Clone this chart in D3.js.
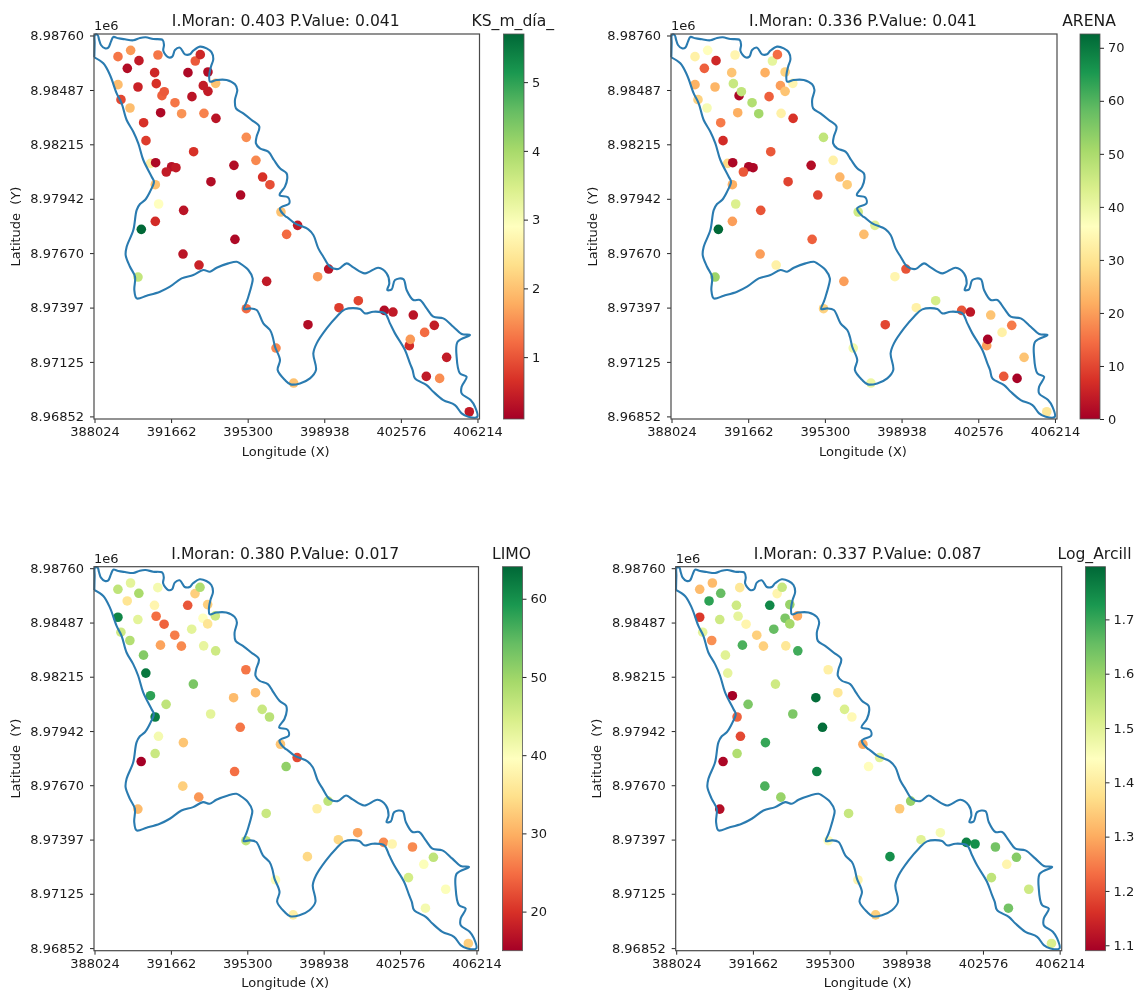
<!DOCTYPE html>
<html><head><meta charset="utf-8">
<script src="https://cdn.jsdelivr.net/npm/d3@7"></script>
<style>html,body{margin:0;padding:0;background:#fff}svg{display:block;filter:blur(0.35px)}text{font-family:"DejaVu Sans",sans-serif;fill:#1a1a1a}</style>
</head><body><div id="chart"></div>
<script>
// ---------- data ----------
const stationLon = [389139,389740,390136,389582,391038,390880,390959,390089,389139,389281,389709,391228,391339,391846,391165,392162,393223,393793,392653,393191,393413,393777,392463,393413,392811,393049,390358,390469,392732,390690,390928,391687,391893,391434,394648,395692,396009,396357,390912,393555,395233,394964,391070,392257,390912,390247,396880,397149,394695,397673,399146,398623,396201,395236,399636,400555,401789,402201,403167,404164,403705,402977,403024,404750,403784,404417,405826,398164,396645,397484,390090,392228,392988];
const stationLat = [8986540,8986857,8986340,8985955,8986623,8985738,8985187,8985020,8985137,8984386,8983968,8984586,8984786,8984235,8983734,8983684,8983701,8983450,8984536,8985087,8984803,8985204,8985738,8985772,8986323,8986640,8983233,8982332,8981780,8981196,8981229,8981029,8980979,8980762,8981096,8981346,8980511,8980127,8980127,8980277,8982499,8979609,8979159,8978841,8978290,8977889,8978758,8977639,8977388,8978090,8975902,8975518,8975284,8973915,8973965,8974316,8973831,8973748,8973597,8973080,8972729,8972061,8972378,8971477,8970525,8970424,8968754,8973113,8971944,8970191,8975501,8976653,8976102];
const ksValues = [1.3,1.6,.4,.25,1.3,.55,.66,.5,1.95,.88,1.95,1.1,1.05,1.3,.2,1.55,1.4,.33,.33,.43,.43,2,.2,.25,1.05,.55,.66,.77,.66,2.6,.2,.3,.4,.43,.25,1.45,.66,.94,2,.25,1.5,.2,2.9,.33,.6,5.7,2,1.2,.2,.4,.33,1.6,.4,1.2,.77,.85,.25,.4,.33,.43,1.2,.6,1.6,.43,.4,1.5,.4,.25,1.45,2,3.7,.33,.5];
const arenaValues = [33,36,6,13,34,25,46,23,22.5,27,38,1,47,49,22,51,33,7.5,13,20,25,34,22,27,41,14.5,16,6.5,12,28,1,1,1,12,2,33,23,26,22,9.5,47,9.5,43,11.5,20,72.6,45,24,13,42,11.5,34,20,27,33,44,11.5,3.5,25,16,33,20,.5,25,12,.5,31,10,39,40,52,20,33];
const limoValues = [47,43,49,35.5,41,38,25,43,61,45.5,48,null,24,26,29,27,42.5,45.5,43,39.5,35.5,45.5,23,33,33,48.5,52,62.5,52.7,58,null,null,null,47,31,31,46,47.5,62,43,25.5,25.5,41,32,46,15,32,51,25,22,47,37,46,47,34,29,27,38,27,47,40,45,null,40,41,null,33,34,40,37,31,33,28];
const logArcillValues = [1.32,1.32,1.655,1.71,1.39,1.53,1.49,1.53,1.17,1.49,1.27,null,1.42,1.35,1.68,1.35,1.39,1.69,1.655,1.63,1.585,1.3,1.75,1.6,1.42,1.54,1.5,1.49,1.53,1.09,null,null,null,1.63,1.79,1.39,1.51,1.43,1.22,1.63,1.41,1.79,1.19,1.7,1.57,1.1,1.3,1.44,1.76,1.5,1.6,1.34,1.54,1.44,1.5,1.46,1.76,1.74,1.64,1.62,1.42,1.55,null,1.53,1.64,null,1.51,1.74,1.42,1.35,1.11,1.68,1.6];
const boundaryLon = [388015,388031,388047,388173,388237,388331,388521,388680,388806,388917,389155,389471,389867,390184,390453,390817,391260,391323,391292,391529,391719,391846,392083,392321,392558,392716,393033,393350,393587,393666,393555,393476,393508,393825,394299,394695,394806,394695,394743,395091,395487,395851,395724,395692,395882,396278,396547,396832,397149,397180,397070,396817,397212,397276,396832,397117,397183,397547,398180,398418,398655,398892,399209,399605,400001,400317,400871,401504,401900,402027,401932,402138,402296,402692,402850,403167,403483,403800,404116,404591,405066,405462,405858,405272,405224,405383,405699,405462,405462,405889,406095,406206,405778,405462,405145,404591,404116,403800,403246,403135,403008,402771,402296,402058,401821,401267,400871,400634,399921,399526,399051,398576,398418,398544,398259,397784,397341,397072,396724,396835,396597,396486,396360,396043,395726,395410,395125,395252,395331,395489,395536,395331,394935,394777,394380,393826,393509,393192,392718,392163,391609,391135,390501,390026,389916,389947,389710,389504,389552,389868,390026,390185,390422,390659,390848,390738,390342,390104,389867,389550,389313,389076,388759,388442,388015];
const boundaryLat = [8986507,8987208,8987625,8987625,8987408,8987124,8986957,8986991,8987291,8987525,8987458,8987408,8987358,8987475,8987509,8987425,8987375,8987124,8986841,8986507,8986540,8986874,8986991,8986657,8986657,8986841,8987041,8986957,8986757,8986406,8986039,8985621,8985287,8985371,8985371,8985154,8984870,8984369,8983951,8983701,8983367,8983033,8982532,8982198,8981947,8981780,8981363,8980945,8980695,8980444,8980027,8979609,8979493,8979192,8978941,8978524,8978491,8978190,8977889,8977605,8976937,8976520,8976019,8975902,8976186,8975986,8975685,8975969,8975685,8975184,8974850,8974883,8975351,8975401,8974850,8974349,8974349,8973931,8973514,8973430,8973013,8972646,8972595,8972261,8971510,8970675,8970508,8970007,8969673,8969339,8969005,8968504,8968504,8968671,8969088,8969339,8969756,8970090,8970424,8970842,8971176,8971844,8972679,8973180,8973681,8973764,8973681,8973898,8973881,8973514,8972929,8972178,8971677,8970842,8970424,8970174,8970124,8970341,8970842,8971343,8972011,8972512,8972846,8973180,8973848,8973931,8973898,8974265,8974516,8975100,8975434,8975852,8976186,8976269,8976185,8975968,8975768,8975851,8975600,8975433,8975016,8974765,8974565,8974431,8974849,8975517,8976018,8976602,8977020,8977855,8978857,8979158,8979358,8979776,8980277,8980528,8981363,8982198,8982782,8983367,8984202,8984703,8985621,8986206,8986507];
const lonTicks = [388024,391662,395300,398938,402576,406214];
const latTicks = [8987600,8984870,8982150,8979420,8976700,8973970,8971250,8968520];
const lonDomain = [388000,406311];
const latDomain = [8968390,8987675];
const panelTitles = ["I.Moran: 0.403 P.Value: 0.041","I.Moran: 0.336 P.Value: 0.041","I.Moran: 0.380 P.Value: 0.017","I.Moran: 0.337 P.Value: 0.087"];
const barLabels = ["KS_m_día_","ARENA","LIMO","Log_Arcill"];
const barDomains = [[.1,5.7],[0,72.6],[15,64.1],[1.09,1.797]];
const barTicks = [[1,2,3,4,5],[0,10,20,30,40,50,60,70],[20,30,40,50,60],[1.1,1.2,1.3,1.4,1.5,1.6,1.7]];
const seriesValues = [ksValues,arenaValues,limoValues,logArcillValues];

// ---------- layout ----------
const layouts = [
  {l:94,   r:479.5, t:34,    b:419,   bl:503.5, br:524},
  {l:671,  r:1057,  t:34,    b:419,   bl:1080,  br:1100},
  {l:94,   r:478.5, t:566.7, b:950.7, bl:502.5, br:522.5},
  {l:675.7,r:1061.7,t:566.7, b:950.7, bl:1085.5,br:1105.5}
];
const FS = 13, FT = 15.6;
const INK = "#262626";
const stops = d3.schemeRdYlGn[11];
const svg = d3.select("#chart").append("svg").attr("width",1143).attr("height",992);
const defs = svg.append("defs");
const gradient = defs.append("linearGradient").attr("id","rdylgn").attr("x1",0).attr("x2",0).attr("y1",1).attr("y2",0);
stops.forEach((c,i)=>gradient.append("stop").attr("offset",i/10).attr("stop-color",c));

layouts.forEach((L,idx)=>{
  const g = svg.append("g");
  const x = d3.scaleLinear().domain(lonDomain).range([L.l,L.r]);
  const y = d3.scaleLinear().domain(latDomain).range([L.b,L.t]);
  const dom = barDomains[idx];
  const color = d3.scaleLinear().domain(d3.range(11).map(i=>dom[0]+(dom[1]-dom[0])*i/10)).range(stops).clamp(true);
  const vals = seriesValues[idx];
  const idxs = d3.range(stationLon.length).filter(i=>vals[i]!==null);

  g.append("g").selectAll("circle").data(idxs).join("circle")
    .attr("cx",i=>x(stationLon[i])).attr("cy",i=>y(stationLat[i])).attr("r",4.8)
    .attr("fill",i=>color(vals[i]));

  const line = d3.line().x(i=>x(boundaryLon[i])).y(i=>y(boundaryLat[i])).curve(d3.curveCatmullRom.alpha(0.5));
  g.append("path").attr("d",line(d3.range(boundaryLon.length)))
    .attr("fill","none").attr("stroke","#2a7bb0").attr("stroke-width",2.1).attr("stroke-linejoin","round");

  const xa = g.append("g").attr("transform",`translate(0,${L.b})`)
    .call(d3.axisBottom(x).tickValues(lonTicks).tickFormat(d3.format("d")).tickSize(4).tickPadding(4));
  const ya = g.append("g").attr("transform",`translate(${L.l},0)`)
    .call(d3.axisLeft(y).tickValues(latTicks).tickFormat(d=>(d/1e6).toFixed(5)).tickSize(4).tickPadding(6));
  [xa,ya].forEach(a=>{
    a.selectAll("text").attr("font-size",FS).style("font-family",'"DejaVu Sans",sans-serif').attr("fill",INK);
    a.selectAll("line").attr("stroke",INK);
    a.select(".domain").remove();
  });
  g.append("rect").attr("x",L.l).attr("y",L.t).attr("width",L.r-L.l).attr("height",L.b-L.t)
    .attr("fill","none").attr("stroke","#4a4a4a").attr("stroke-width",1.2);

  const cx = (L.l+L.r)/2 - 1;
  g.append("text").attr("x",cx).attr("y",L.t-8).attr("text-anchor","middle").attr("font-size",FT).text(panelTitles[idx]);
  g.append("text").attr("x",cx).attr("y",L.b+36.5).attr("text-anchor","middle").attr("font-size",FS).text("Longitude (X)");
  g.append("text").attr("x",L.l).attr("y",L.t-4).attr("font-size",FS).text("1e6");
  g.append("text").attr("transform",`translate(${L.l-74.5},${(L.t+L.b)/2}) rotate(-90)`).attr("text-anchor","middle")
    .attr("font-size",FS).attr("xml:space","preserve").style("white-space","pre").text("Latitude  (Y)");

  // colour bar
  const cb = d3.scaleLinear().domain(dom).range([L.b,L.t]);
  g.append("rect").attr("x",L.bl).attr("y",L.t).attr("width",L.br-L.bl).attr("height",L.b-L.t)
    .attr("fill","url(#rdylgn)").attr("stroke","#555").attr("stroke-width",.8);
  const ca = g.append("g").attr("transform",`translate(${L.br},0)`)
    .call(d3.axisRight(cb).tickValues(barTicks[idx]).tickFormat(d3.format(idx===3?".1f":"d")).tickSize(4).tickPadding(4));
  ca.select(".domain").remove();
  ca.selectAll("text").attr("font-size",FS).style("font-family",'"DejaVu Sans",sans-serif').attr("fill",INK);
  ca.selectAll("line").attr("stroke",INK);
  g.append("text").attr("x",(L.bl+L.br)/2-1).attr("y",L.t-8).attr("text-anchor","middle").attr("font-size",FT).text(barLabels[idx]);
});
</script></body></html>
